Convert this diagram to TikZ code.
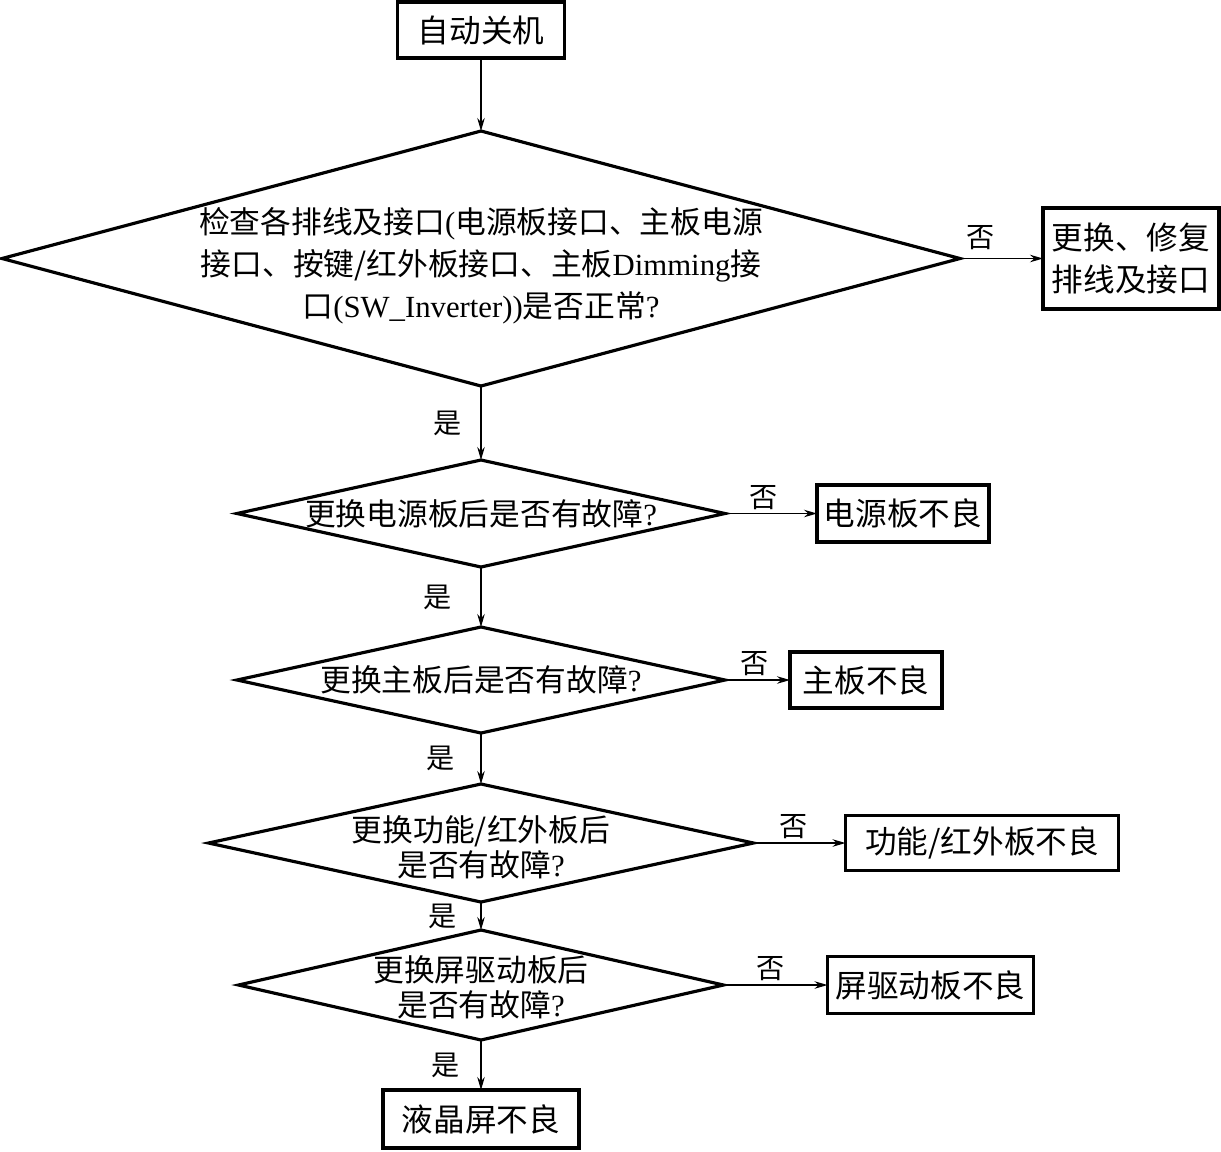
\documentclass[tikz,border=0pt]{standalone}
\usepackage{fontspec}
\setmainfont{Liberation Serif}
\newfontfamily\cjk{Noto Sans CJK SC}
\usetikzlibrary{arrows.meta,positioning,shapes.geometric}
\newcommand{\en}[1]{{\rmfamily #1}}

\begin{document}
\begin{tikzpicture}[
    node distance=1cm,
    outcome/.style={rectangle,draw,line width=1.8pt,inner sep=0pt,outer sep=0pt,align=center,
      font=\cjk\fontsize{18}{24}\selectfont},
    decision/.style={diamond,draw,line width=1.8pt,inner sep=0pt,outer sep=0pt},
    question/.style={align=center,inner sep=0pt,font=\cjk\fontsize{17.5}{20}\selectfont},
    arrow/.style={-{Stealth[length=2.6mm,width=1.5mm]},line width=0.7pt},
    tag/.style={font=\cjk\fontsize{16}{20}\selectfont,inner sep=2pt}
  ]
    \useasboundingbox (0,0) rectangle (24.42,-23.02);
    \node[outcome,minimum width=3.34cm,minimum height=1.12cm] (start) at (9.62,-0.6) {自动关机};
    \node[decision,minimum width=19.16cm,minimum height=5.1cm,below=1.46cm of start,
      label={[question,yshift=-0.14cm,font=\cjk\fontsize{17.5}{24}\selectfont]center:检查各排线及接口\en{(}电源板接口、主板电源\\接口、按键/红外板接口、主板\en{Dimming}接\\口\en{(SW\_Inverter))}是否正常\en{?}}] (d1) {};
    \node[outcome,right=1.66cm of d1,minimum width=3.52cm,minimum height=2.02cm] (fix) {更换、修复\\排线及接口};
    \node[decision,minimum width=9.76cm,minimum height=2.14cm,below=1.48cm of d1,
      label={[question]center:更换电源板后是否有故障\en{?}}] (d2) {};
    \node[outcome,right=1.84cm of d2,minimum width=3.44cm,minimum height=1.14cm] (power) {电源板不良};
    \node[decision,minimum width=9.76cm,minimum height=2.12cm,below=1.2cm of d2,
      label={[question]center:更换主板后是否有故障\en{?}}] (d3) {};
    \node[outcome,right=1.3cm of d3,minimum width=3.04cm,minimum height=1.12cm] (main) {主板不良};
    \node[decision,minimum width=10.9cm,minimum height=2.36cm,below=1.02cm of d3,
      label={[question,yshift=-0.08cm]center:更换功能/红外板后\\是否有故障\en{?}}] (d4) {};
    \node[outcome,right=1.84cm of d4,minimum width=5.46cm,minimum height=1.1cm] (func) {功能/红外板不良};
    \node[decision,minimum width=9.7cm,minimum height=2.2cm,below=0.56cm of d4,
      label={[question,yshift=-0.04cm]center:更换屏驱动板后\\是否有故障\en{?}}] (d5) {};
    \node[outcome,right=2.08cm of d5,minimum width=4.12cm,minimum height=1.14cm] (drive) {屏驱动板不良};
    \node[outcome,below=1.0cm of d5,minimum width=3.92cm,minimum height=1.16cm] (lcd) {液晶屏不良};
    % main chain
    \draw[arrow] (start) -- (d1);
    \draw[arrow] (d1) -- node[tag,left,xshift=-0.3cm]{是} (d2);
    \draw[arrow] (d2) -- node[tag,left,xshift=-0.5cm]{是} (d3);
    \draw[arrow] (d3) -- node[tag,left,xshift=-0.45cm]{是} (d4);
    \draw[arrow] (d4) -- node[tag,left,xshift=-0.4cm]{是} (d5);
    \draw[arrow] (d5) -- node[tag,left,xshift=-0.35cm]{是} (lcd);
    % no branches
    \draw[arrow] (d1.east) -- node[tag,above,pos=0.25,yshift=0.1cm]{否} (fix);
    \draw[arrow] (d2.east) -- node[tag,above,pos=0.42]{否} (power);
    \draw[arrow] (d3.east) -- node[tag,above,pos=0.45]{否} (main);
    \draw[arrow] (d4.east) -- node[tag,above,pos=0.43]{否} (func);
    \draw[arrow] (d5.east) -- node[tag,above,pos=0.45]{否} (drive);
\end{tikzpicture}
\end{document}
